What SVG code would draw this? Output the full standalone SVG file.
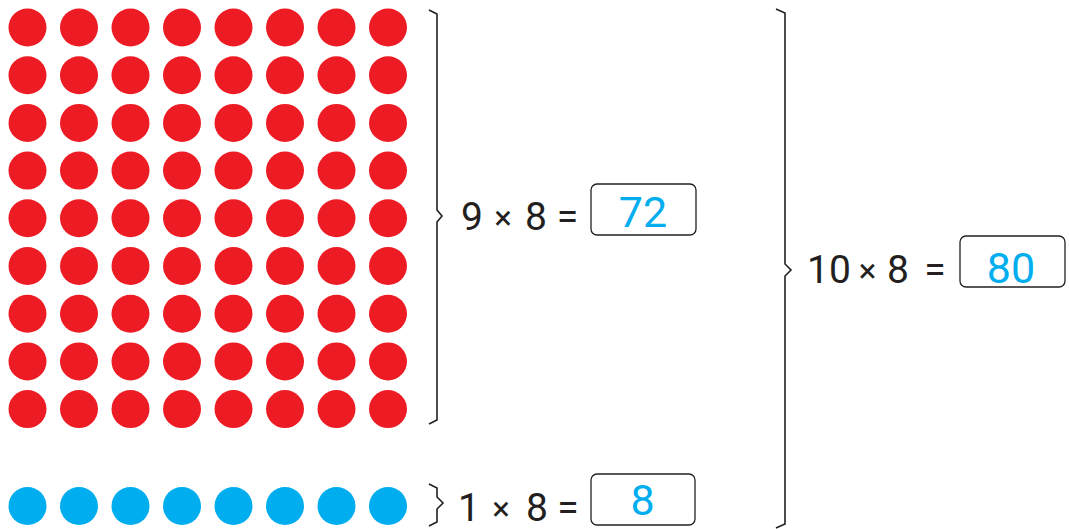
<svg xmlns="http://www.w3.org/2000/svg" width="1069" height="529" viewBox="0 0 1069 529">
<style>
.r{fill:#ED1C24}
.b{fill:#00AEEF}
.br{fill:none;stroke:#231F20;stroke-width:1.6;stroke-linejoin:miter}
.box{fill:#fff;stroke:#231F20;stroke-width:1.3}
.t{font-family:Roboto,"Liberation Sans",sans-serif;font-size:39px;fill:#231F20;text-anchor:middle}
.x{font-size:33px}
.a{font-family:Roboto,"Liberation Sans",sans-serif;font-size:43px;fill:#00AEEF;text-anchor:middle}
</style>
<defs>
<circle id="rc" r="19" class="r"/>
<circle id="bc" r="19" class="b"/>
<g id="row">
<use href="#rc" x="27.5"/><use href="#rc" x="79"/><use href="#rc" x="130.5"/><use href="#rc" x="182"/>
<use href="#rc" x="233.5"/><use href="#rc" x="285"/><use href="#rc" x="336.5"/><use href="#rc" x="388"/>
</g>
</defs>
<g id="red-dots">
<use href="#row" y="27.5"/><use href="#row" y="75.2"/><use href="#row" y="122.9"/><use href="#row" y="170.6"/>
<use href="#row" y="218.3"/><use href="#row" y="266"/><use href="#row" y="313.7"/><use href="#row" y="361.4"/>
<use href="#row" y="409.1"/>
</g>
<g id="blue-dots">
<use href="#bc" x="27.5" y="506"/><use href="#bc" x="79" y="506"/><use href="#bc" x="130.5" y="506"/><use href="#bc" x="182" y="506"/>
<use href="#bc" x="233.5" y="506"/><use href="#bc" x="285" y="506"/><use href="#bc" x="336.5" y="506"/><use href="#bc" x="388" y="506"/>
</g>
<g id="connectors">
<path class="br" d="M429,10 L437,14 L437,210 L442,216 L437,222 L437,420 L429,424"/>
<path class="br" d="M429,484 L437,488 L437,497 L443,503 L437,509 L437,522 L429,526"/>
<path class="br" d="M776,9 L785,13 L785,264 L791,270 L785,276 L785,524 L776,528"/>
</g>
<g id="eq1">
<rect class="box" x="591" y="184" width="105" height="51" rx="6"/>
<text class="t"><tspan x="472" y="230">9</tspan><tspan class="x" x="503" y="229">×</tspan><tspan x="536" y="230">8</tspan><tspan x="567.5" y="230">=</tspan></text>
<text class="a" x="643" y="227">72</text>
</g>
<g id="eq2">
<rect class="box" x="960" y="236" width="105" height="51" rx="6"/>
<text class="t"><tspan x="829" y="283">10</tspan><tspan class="x" x="867.5" y="282">×</tspan><tspan x="898" y="283">8</tspan><tspan x="935" y="283">=</tspan></text>
<text class="a" x="1011" y="283">80</text>
</g>
<g id="eq3">
<rect class="box" x="591" y="474" width="104" height="51" rx="6"/>
<text class="t"><tspan x="469" y="521">1</tspan><tspan class="x" x="501" y="520">×</tspan><tspan x="537" y="521">8</tspan><tspan x="568" y="521">=</tspan></text>
<text class="a" x="642.5" y="515">8</text>
</g>
</svg>
